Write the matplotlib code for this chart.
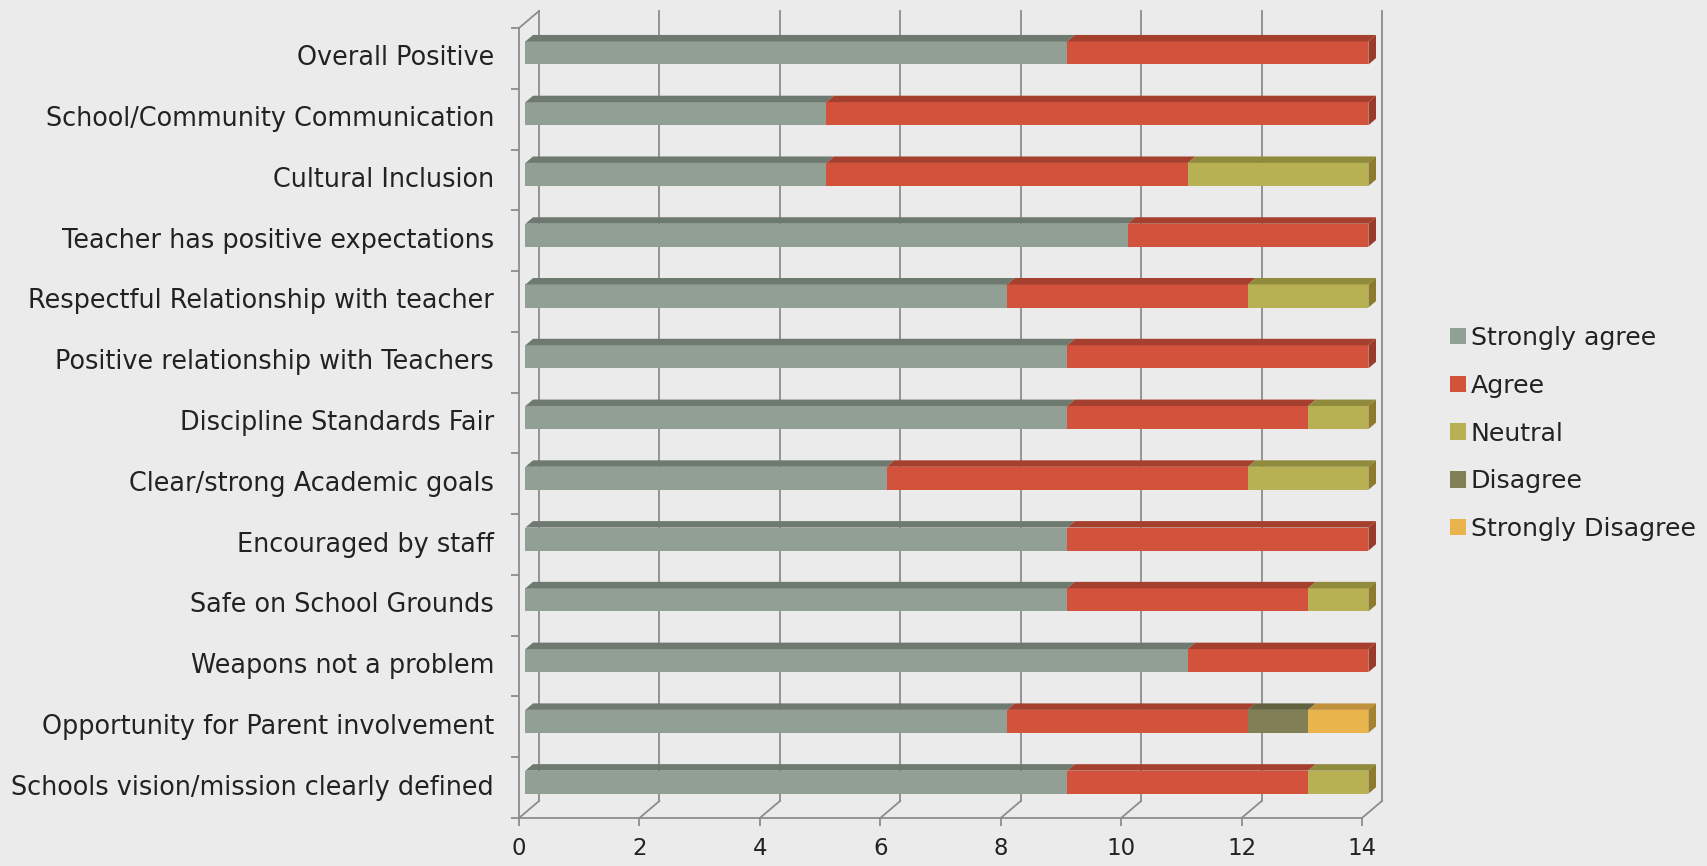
import numpy as np
import matplotlib
matplotlib.use("Agg")
import matplotlib.pyplot as plt
from matplotlib.transforms import Affine2D
from matplotlib.patches import Polygon

categories = [
    "Overall Positive",
    "School/Community Communication",
    "Cultural Inclusion",
    "Teacher has positive expectations",
    "Respectful Relationship with teacher",
    "Positive relationship with Teachers",
    "Discipline Standards Fair",
    "Clear/strong Academic goals",
    "Encouraged by staff",
    "Safe on School Grounds",
    "Weapons not a problem",
    "Opportunity for Parent involvement",
    "Schools vision/mission clearly defined",
]
series_names = ["Strongly agree", "Agree", "Neutral", "Disagree", "Strongly Disagree"]
strongly_agree = [9, 5, 5, 10, 8, 9, 9, 6, 9, 9, 11, 8, 9]
agree = [5, 9, 6, 4, 4, 5, 4, 6, 5, 4, 3, 4, 4]
neutral = [0, 0, 3, 0, 2, 0, 1, 2, 0, 1, 0, 0, 1]
disagree = [0, 0, 0, 0, 0, 0, 0, 0, 0, 0, 0, 1, 0]
strongly_disagree = [0, 0, 0, 0, 0, 0, 0, 0, 0, 0, 0, 1, 0]
x_ticks = [0, 2, 4, 6, 8, 10, 12, 14]

series = [strongly_agree, agree, neutral, disagree, strongly_disagree]
front_colors = ["#919f94", "#d2523b", "#b8b153", "#807f56", "#e9b44b"]
top_colors = ["#6e7a70", "#a6402e", "#8f8a3c", "#63623f", "#c0913a"]
side_colors = ["#6e7a70", "#9a3a2a", "#8d7a2c", "#5e5d3c", "#a5832e"]

FONT = ["DejaVu Sans"]
TEXT_C = "#222222"

W, H = 1708, 866
fig = plt.figure(figsize=(W / 100, H / 100), dpi=100)
fig.patch.set_facecolor("#ebebeb")

x0, x1 = 519, 1362
ytop, ybot = 28, 818
ax = fig.add_axes([x0 / W, (H - ybot) / H, (x1 - x0) / W, (ybot - ytop) / H])
ax.set_facecolor("none")
n = len(categories)
ax.set_xlim(0, 14)
ax.set_ylim(n - 0.5, -0.5)

DX, DY = 20.0, 17.0  # full depth offset in pixels (display)
ux = 14 / (x1 - x0)
uy = n / (ybot - ytop)

def off(frac):
    return ax.transData + Affine2D().translate(DX * frac, DY * frac)

grid_c = "#8c8c8c"
lw = 1.3
for xv in x_ticks:
    ax.plot([xv, xv], [n - 0.5, -0.5], color=grid_c, lw=lw, transform=off(1.0),
            clip_on=False, zorder=1)
    ax.plot([xv, xv + DX * ux], [n - 0.5, n - 0.5 - DY * uy], color=grid_c, lw=lw,
            clip_on=False, zorder=1)
ax.plot([0, DX * ux], [-0.5, -0.5 - DY * uy], color=grid_c, lw=lw, clip_on=False, zorder=1)

# bars
y = np.arange(n)
h = 0.38
fd = 0.32
depth = 0.38
left = np.zeros(n)
totals = np.zeros(n)
for vals in series:
    totals += np.array(vals, dtype=float)
handles = []
for k, vals in enumerate(series):
    vals = np.array(vals, dtype=float)
    bars = ax.barh(y, vals, left=left, height=h, color=front_colors[k],
                   transform=off(fd), zorder=3, label=series_names[k], clip_on=False)
    handles.append(bars)
    for i in range(n):
        if vals[i] <= 0:
            continue
        l, r = left[i], left[i] + vals[i]
        yt = y[i] - h / 2
        yb = y[i] + h / 2
        ddx, ddy = depth * DX * ux, depth * DY * uy
        top = Polygon([(l, yt), (r, yt), (r + ddx, yt - ddy), (l + ddx, yt - ddy)],
                      closed=True, facecolor=top_colors[k], edgecolor="none",
                      transform=off(fd), zorder=3, clip_on=False)
        ax.add_patch(top)
        if abs(r - totals[i]) < 1e-9:
            side = Polygon([(r, yt), (r + ddx, yt - ddy), (r + ddx, yb - ddy), (r, yb)],
                           closed=True, facecolor=side_colors[k], edgecolor="none",
                           transform=off(fd), zorder=3, clip_on=False)
            ax.add_patch(side)
    left = left + vals

for s in ["top", "right"]:
    ax.spines[s].set_visible(False)
for s in ["left", "bottom"]:
    ax.spines[s].set_color(grid_c)
    ax.spines[s].set_linewidth(lw)
ax.set_xticks(x_ticks)
ax.set_xticklabels([str(v) for v in x_ticks])
ax.tick_params(axis="x", direction="out", length=6, width=lw, color=grid_c,
               labelsize=16.5, pad=8, labelcolor=TEXT_C)
ax.set_yticks(y)
ax.set_yticklabels(categories, va="center")
ax.tick_params(axis="y", which="major", length=0, pad=18, labelsize=18.4, labelcolor=TEXT_C)
ax.set_yticks(np.arange(n + 1) - 0.5, minor=True)
ax.tick_params(axis="y", which="minor", direction="out", length=5.5, width=lw, color=grid_c)
for t in ax.get_xticklabels() + ax.get_yticklabels():
    t.set_fontfamily(FONT)

leg = fig.legend(handles=handles, labels=series_names, loc="upper left",
                 bbox_to_anchor=(1450 / W, 1 - 326 / H), frameon=False,
                 prop={"family": FONT, "size": 18.2},
                 handlelength=0.62, handleheight=0.62, handletextpad=0.2,
                 labelspacing=0.94, borderpad=0, borderaxespad=0)
for t in leg.get_texts():
    t.set_color(TEXT_C)

fig.savefig("out.png", dpi=100, facecolor=fig.get_facecolor())
